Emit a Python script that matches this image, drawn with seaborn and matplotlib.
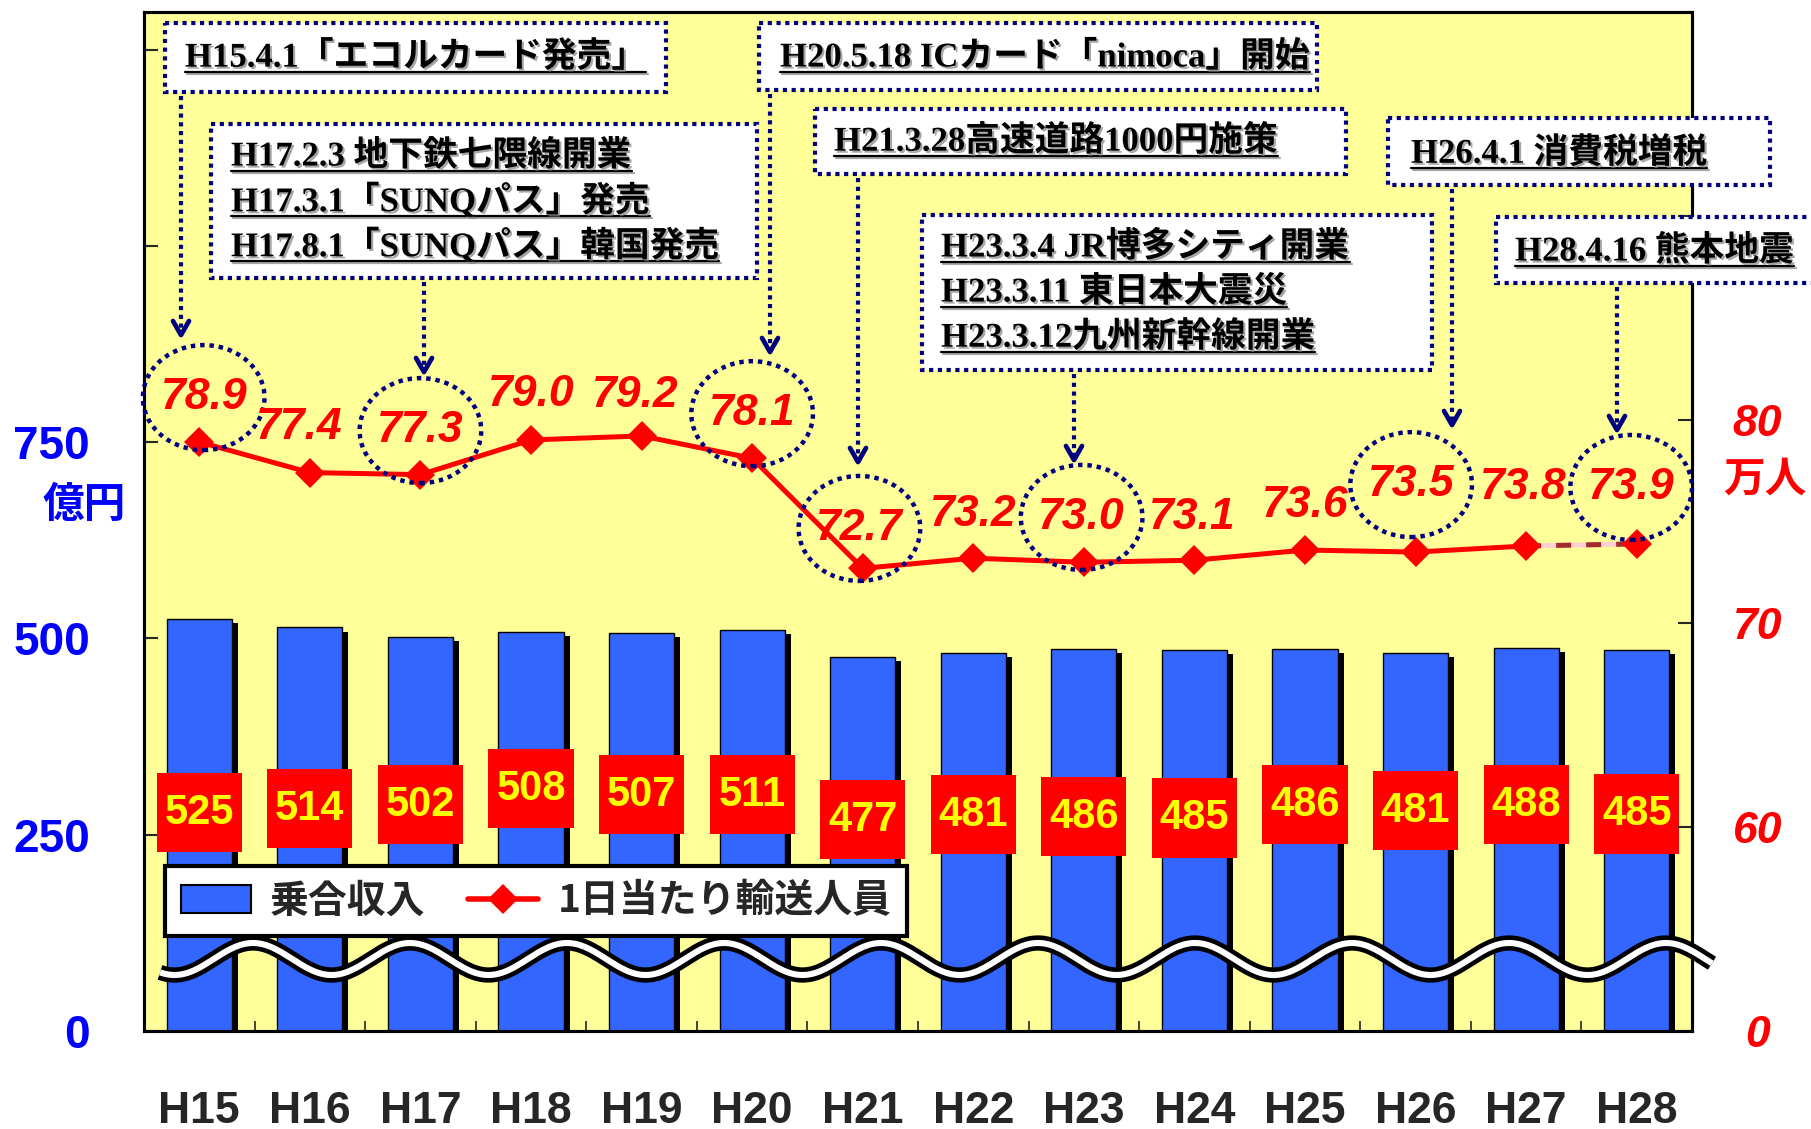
#!/usr/bin/env python

import numpy as np
import pandas as pd
import seaborn as sns
import matplotlib
matplotlib.use('Agg')
import matplotlib.pyplot as plt
import matplotlib.patheffects as pe
from matplotlib import transforms
from matplotlib.lines import Line2D
from matplotlib.patches import Ellipse, Patch, Rectangle

sns.set_style('ticks')
plt.rcParams['font.family'] = ['Liberation Sans', 'Noto Sans CJK JP', 'DejaVu Sans']

W, H = 1811, 1129

years = ['H15', 'H16', 'H17', 'H18', 'H19', 'H20', 'H21',
         'H22', 'H23', 'H24', 'H25', 'H26', 'H27', 'H28']
revenue = [525, 514, 502, 508, 507, 511, 477, 481, 486, 485, 486, 481, 488, 485]
riders = [78.9, 77.4, 77.3, 79.0, 79.2, 78.1, 72.7,
          73.2, 73.0, 73.1, 73.6, 73.5, 73.8, 73.9]
circled = ['H15', 'H17', 'H20', 'H21', 'H23', 'H26', 'H28']

left_ticks = [0, 250, 500, 750, 1000, 1250]
left_labels = ['0', '250', '500', '750', '', '']
right_ticks = [50, 60, 70, 80, 90, 100]
right_labels = ['0', '60', '70', '80', '', '']

events = [
    ['H15.4.1「エコルカード発売」'],
    ['H17.2.3 地下鉄七隈線開業', 'H17.3.1「SUNQパス」発売', 'H17.8.1「SUNQパス」韓国発売'],
    ['H20.5.18 ICカード「nimoca」開始'],
    ['H21.3.28高速道路1000円施策'],
    ['H23.3.4 JR博多シティ開業', 'H23.3.11 東日本大震災', 'H23.3.12九州新幹線開業'],
    ['H26.4.1 消費税増税'],
    ['H28.4.16 熊本地震'],
]

# label placement (data units of each axis)
rev_label_y = [278, 283, 288, 308, 301, 301, 269, 275, 273, 271, 288, 280, 288, 276]
rider_label_y = [81.08, 79.61, 79.46, 81.23, 81.18, 80.29, 74.66,
                 75.34, 75.20, 75.20, 75.78, 76.81, 76.67, 76.67]
rider_label_dx = [0.04, -0.1, 0.0, 0.0, -0.06, 0.0, -0.03,
                  0.0, -0.02, -0.02, 0.0, -0.04, -0.03, -0.05]

# event boxes, pixels from the top-left corner of the figure
event_boxes = [(165, 23, 666, 92), (211, 124, 757, 278), (759, 23, 1317, 90),
               (815, 109, 1346, 174), (922, 215, 1432, 370), (1388, 118, 1770, 185),
               (1496, 217, 1850, 283)]
event_text_x = [185, 231, 780, 834, 941, 1411, 1515]
event_text_y = [58, 157, 58, 142, 248, 154, 252]
event_arrows = [(181, 335), (424, 372), (770, 352), (858, 462),
                (1074, 460), (1452, 425), (1617, 430)]
line_step = 45

navy = '#000080'
blue = '#3366ff'
dots = (0, (1, 1.1))

df = pd.DataFrame({'year': years, 'revenue': revenue, 'riders': riders})
pos = np.arange(len(years))

fig = plt.figure(figsize=(W / 100, H / 100), dpi=100)
ax = fig.add_axes([144 / W, 1 - 1031 / H, 1548 / W, 1019 / H])
px = transforms.Affine2D().scale(1 / W, -1 / H).translate(0, 1) + fig.transFigure

ax.set_facecolor('#ffff99')
sns.barplot(data=df, x='year', y='revenue', color=blue, saturation=1,
            width=0.59, edgecolor='black', linewidth=1, ax=ax)
for bar in ax.patches:
    bar.set_path_effects([pe.SimplePatchShadow(offset=(4.3, -2.9),
                                               shadow_rgbFace='black', alpha=1),
                          pe.Normal()])

for i, v in enumerate(revenue):
    ax.add_patch(Rectangle((i - 0.385, rev_label_y[i] - 50), 0.77, 101,
                           facecolor='red', edgecolor='none', zorder=3))
    ax.text(i, rev_label_y[i], str(v), ha='center', va='center',
            color='yellow', fontsize=30, fontweight='bold',
            family='Liberation Sans', zorder=4)

ax.set_xlim(-0.5, len(years) - 0.5)
ax.set_ylim(0, 1298)
ax.set_xlabel('')
ax.set_ylabel('')
ax.set_yticks(left_ticks)
ax.set_yticklabels(left_labels)
ax.tick_params(axis='y', direction='in', length=10, width=1.5, pad=39,
               labelsize=33, labelcolor='#0000ff')
for lbl in ax.get_yticklabels():
    lbl.set_fontweight('bold')
ax.set_xticks(pos)
ax.set_xticklabels(years, fontsize=32, fontweight='bold')
ax.set_xticks(pos[:-1] + 0.5, minor=True)
ax.tick_params(axis='x', which='major', length=0, pad=43)
ax.tick_params(axis='x', which='minor', direction='in', length=7, width=1.2)

ax2 = ax.twinx()
sns.lineplot(x=pos[:-1], y=riders[:-1], color='red', linewidth=3.6,
             marker='D', markersize=15, markeredgewidth=0, legend=False,
             ax=ax2, zorder=3)
ax2.plot(pos[-2:], riders[-2:], color='#ffd0d0', lw=3.6, zorder=2)
ax2.plot(pos[-2:], riders[-2:], color='#a52a2a', lw=3.6, dashes=(3, 3),
         zorder=2)
ax2.plot(pos[-1:], riders[-1:], 'D', color='red', markersize=15,
         markeredgewidth=0, zorder=3)

for i, v in enumerate(riders):
    x = i + rider_label_dx[i]
    ax2.text(x, rider_label_y[i], f'{v:.1f}', ha='center', va='center',
             color='red', fontsize=32, fontweight='bold', fontstyle='italic',
             family='Liberation Sans', zorder=4)
    if years[i] in circled:
        ax2.add_patch(Ellipse((x, rider_label_y[i]), 1.1, 5.15, fill=False,
                              edgecolor=navy, linewidth=3.2, linestyle=dots,
                              clip_on=False, zorder=4))

ax2.set_ylim(50, 100)
ax2.set_yticks(right_ticks)
ax2.set_yticklabels(right_labels)
ax2.set_ylabel('')
ax2.tick_params(axis='y', direction='in', length=10, width=1.5, pad=47,
                labelsize=32, labelcolor='red')
for lbl in ax2.get_yticklabels():
    lbl.set_fontweight('bold')
    lbl.set_fontstyle('italic')
    lbl.set_horizontalalignment('center')

for a in (ax, ax2):
    for s in a.spines.values():
        s.set_linewidth(2.2)
        s.set_color('black')

fig.text(84 / W, 1 - 505 / H, '億円', ha='center', va='center', color='#0000ff',
         fontsize=30, fontweight='bold', family='Noto Sans CJK JP')
fig.text(1765 / W, 1 - 480 / H, '万人', ha='center', va='center', color='red',
         fontsize=30, fontweight='bold', family='Noto Sans CJK JP')

# broken-axis wave
wx = np.linspace(160, 1712, 600)
wy = 959 - 16 * np.cos(2 * np.pi * (wx - 253) / 157)
ax2.plot(wx, wy, color='black', lw=11, solid_capstyle='butt',
         transform=px, clip_on=False, zorder=4)
ax2.plot(wx, wy, color='white', lw=4.4, solid_capstyle='butt',
         transform=px, clip_on=False, zorder=4)

handles = [Patch(facecolor=blue, edgecolor='black', linewidth=1.5),
           Line2D([], [], color='red', lw=4, marker='D', markersize=15,
                  markeredgewidth=0)]
leg = ax2.legend(handles, ['乗合収入', '1日当たり輸送人員'], ncol=2,
                 loc='upper left', bbox_to_anchor=(21 / 1548, 165 / 1019),
                 borderaxespad=0, frameon=True, fancybox=False, framealpha=1,
                 edgecolor='black', handlelength=1.8, handletextpad=0.5,
                 columnspacing=1.1, borderpad=0.4,
                 prop={'family': 'Noto Sans CJK JP', 'weight': 'bold', 'size': 28})
leg.get_frame().set_linewidth(3)
leg.set_zorder(5)

# event annotations
shadow = [pe.withSimplePatchShadow(offset=(1.5, -1.5), shadow_rgbFace='#808080',
                                   alpha=0.7)]
event_texts = []
for k, lines in enumerate(events):
    x0, y0, x1, y1 = event_boxes[k]
    fig.add_artist(Rectangle((x0, y0), x1 - x0, y1 - y0, transform=px,
                             facecolor='white', edgecolor=navy, linewidth=3.0,
                             linestyle=dots, zorder=5))
    for j, line in enumerate(lines):
        t = fig.text(event_text_x[k], event_text_y[k] + j * line_step, line,
                     transform=px, ha='left', va='center', fontsize=25,
                     fontweight='bold', color='black',
                     family=['Liberation Serif', 'Noto Sans CJK JP'],
                     path_effects=shadow, zorder=6)
        event_texts.append(t)
    ax_x, tip = event_arrows[k]
    fig.add_artist(Line2D([ax_x, ax_x], [y1 + 4, tip - 4], transform=px,
                          color=navy, lw=3.0, linestyle=dots, zorder=5))
    fig.add_artist(Line2D([ax_x - 8, ax_x, ax_x + 8], [tip - 14, tip, tip - 14],
                          transform=px, color=navy, lw=3.4, zorder=5))

fig.canvas.draw()
renderer = fig.canvas.get_renderer()
for t in event_texts:
    bb = t.get_window_extent(renderer)
    fig.add_artist(Line2D([bb.x0, bb.x1], [bb.y0 + 3, bb.y0 + 3],
                          transform=transforms.IdentityTransform(),
                          color='black', lw=1.6, zorder=6,
                          path_effects=[pe.SimpleLineShadow(offset=(1.5, -1.5),
                                                            shadow_color='gray',
                                                            alpha=0.7),
                                        pe.Normal()]))

fig.savefig('out.png', dpi=100)
